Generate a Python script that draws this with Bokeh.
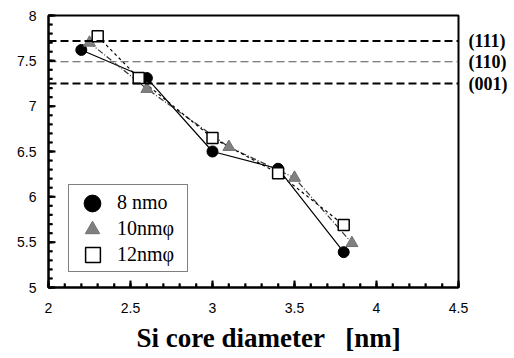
import math
from bokeh.plotting import figure
from bokeh.models import Span, Legend, LegendItem, Range1d, FixedTicker, LinearAxis, Title
from bokeh.embed import file_html
from bokeh.resources import INLINE

# ---- data ----
d8_x = [2.2, 2.6, 3.0, 3.4, 3.8]
d8_y = [7.62, 7.31, 6.50, 6.31, 5.39]
d10_x = [2.25, 2.6, 3.1, 3.5, 3.85]
d10_y = [7.70, 7.19, 6.55, 6.21, 5.49]
d12_x = [2.3, 2.55, 3.0, 3.4, 3.8]
d12_y = [7.77, 7.31, 6.65, 6.26, 5.69]
series_names = ["8 nmo", "10nm\u03c6", "12nm\u03c6"]
ref_names = ["(111)", "(110)", "(001)"]
ref_values = [7.72, 7.49, 7.25]
x_ticks = [2, 2.5, 3, 3.5, 4, 4.5]
y_ticks = [5, 5.5, 6, 6.5, 7, 7.5, 8]
x_minor = [round(2 + 0.1 * i, 2) for i in range(26)]
y_minor = [round(5 + 0.1 * i, 2) for i in range(31)]
x_title = "Si core diameter\u00a0\u00a0\u00a0[nm]"

SERIF = "'Liberation Serif'"
SANS = "'Liberation Sans'"
XMIN, XMAX, YMIN, YMAX = 2, 4.5, 5, 8
FRAME_W, FRAME_H = 410, 273

p = figure(width=514, height=358, output_backend="svg", toolbar_location=None,
           x_range=Range1d(XMIN, XMAX), y_range=Range1d(YMIN, YMAX),
           min_border_left=48, min_border_right=56, min_border_top=15, min_border_bottom=70)
p.xgrid.visible = False
p.ygrid.visible = False
p.background_fill_color = "white"
p.border_fill_color = "white"
p.outline_line_color = "black"
p.outline_line_width = 2

for ax in (p.xaxis[0], p.yaxis[0]):
    ax.axis_line_color = "black"
    ax.axis_line_width = 2
    ax.major_tick_line_color = "black"
    ax.minor_tick_line_color = "black"
    ax.major_tick_line_width = 1.5
    ax.minor_tick_line_width = 1.5
    ax.major_tick_in = 6
    ax.major_tick_out = 0
    ax.minor_tick_in = 4
    ax.minor_tick_out = 0
    ax.major_label_text_font = SANS
    ax.major_label_text_font_size = "14px"
    ax.major_label_text_color = "black"

p.xaxis.ticker = FixedTicker(ticks=x_ticks, minor_ticks=x_minor)
p.yaxis.ticker = FixedTicker(ticks=y_ticks, minor_ticks=y_minor)
p.xaxis.major_label_overrides = {2: "2", 2.5: "2.5", 3: "3", 3.5: "3.5", 4: "4", 4.5: "4.5"}
p.xaxis.major_label_standoff = 15
p.yaxis.major_label_standoff = 12

# inward ticks drawn as segments (lengths in px converted to data units)
px_x = (XMAX - XMIN) / FRAME_W
px_y = (YMAX - YMIN) / FRAME_H
tick_src = dict(
    x0=x_minor + x_ticks + [XMIN] * (len(y_minor) + len(y_ticks)),
    y0=[YMIN] * (len(x_minor) + len(x_ticks)) + y_minor + y_ticks,
    x1=x_minor + x_ticks + [XMIN + 4 * px_x] * len(y_minor) + [XMIN + 7 * px_x] * len(y_ticks),
    y1=[YMIN + 4 * px_y] * len(x_minor) + [YMIN + 7 * px_y] * len(x_ticks) + y_minor + y_ticks,
)
p.segment(x0="x0", y0="y0", x1="x1", y1="y1", source=tick_src,
          line_color="black", line_width=2, level="overlay")

# reference lines
styles = [dict(line_color="black", line_width=2, line_dash="8 4"),
          dict(line_color="#555555", line_width=1.2, line_dash="8 4"),
          dict(line_color="black", line_width=2, line_dash="8 4")]
for v, st in zip(ref_values, styles):
    p.add_layout(Span(location=v, dimension="width", **st))

rax = LinearAxis(ticker=FixedTicker(ticks=ref_values),
                 major_label_overrides={v: n for v, n in zip(ref_values, ref_names)},
                 axis_line_color=None, major_tick_line_color=None, minor_tick_line_color=None,
                 major_tick_in=0, major_tick_out=0,
                 major_label_standoff=10, major_label_text_font=SERIF,
                 major_label_text_font_style="bold", major_label_text_font_size="18px",
                 major_label_text_color="black")
p.add_layout(rax, "right")

# series
p.line(d8_x, d8_y, line_color="black", line_width=1.2)
p.line(d10_x, d10_y, line_color="#333333", line_width=1.2, line_dash="6 2 1 2")
p.line(d12_x, d12_y, line_color="black", line_width=1.2, line_dash="3 3")

r8 = p.scatter(d8_x, d8_y, marker="circle", size=11, fill_color="black", line_color="black")
r10 = p.scatter(d10_x, d10_y, marker="triangle", size=12, fill_color="#808080", line_color="#707070")
r12 = p.scatter(d12_x, d12_y, marker="square", size=11, fill_color="white", line_color="black", line_width=1.5)

# transparent stand-ins: the main legend draws box + labels only
ghost = [p.scatter(d8_x, d8_y, marker="circle", size=1, fill_alpha=0, line_alpha=0) for _ in range(3)]

main_legend = Legend(items=[LegendItem(label=n, renderers=[g]) for n, g in zip(series_names, ghost)],
                     location=(20, 15), glyph_width=38, glyph_height=26, label_height=26,
                     spacing=0, padding=4, label_standoff=6, label_width=66,
                     label_text_font=SERIF, label_text_font_size="20px",
                     label_text_color="black", label_text_baseline="middle",
                     border_line_color="black", border_line_width=1.5,
                     background_fill_color="white", background_fill_alpha=1.0)
p.add_layout(main_legend, "center")

# large legend markers, one small transparent legend per row
row_centers = [204, 230, 256]   # px from top of canvas
glyph_dims = [42, 36, 37]
for r, c, g in zip([r8, r10, r12], row_centers, glyph_dims):
    lg = Legend(items=[LegendItem(label=" ", renderers=[r])],
                location=(int(round(92 - 48 - g / 2)), int(round(288 - (c + g / 2)))),
                glyph_width=g, glyph_height=g, padding=0, spacing=0,
                label_standoff=0, label_width=0, label_text_font_size="1px",
                border_line_color=None, background_fill_alpha=0)
    p.add_layout(lg, "center")

p.add_layout(Title(text=x_title, align="left", offset=88, standoff=11,
                   text_font=SERIF, text_font_style="bold", text_font_size="27px",
                   text_color="black"), "below")

open("out.html", "w").write(file_html(p, INLINE))
